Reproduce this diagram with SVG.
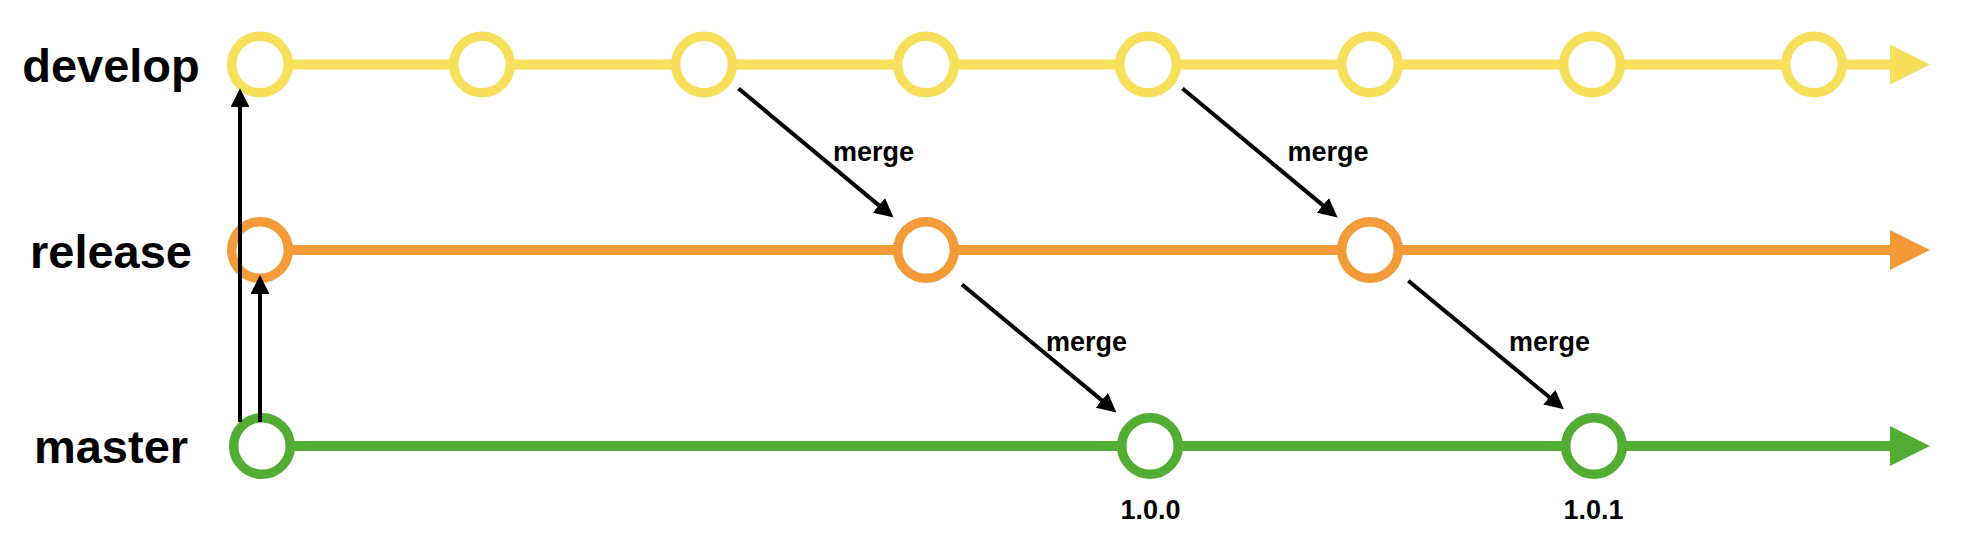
<svg xmlns="http://www.w3.org/2000/svg" width="1974" height="536" viewBox="0 0 1974 536">
<style>
.lbl{font-family:"Liberation Sans",Arial,sans-serif;font-weight:bold;fill:#000}
.branch{font-size:47px;text-anchor:middle}
.merge{font-size:27px}
.ver{font-size:27px;text-anchor:middle}
.dev{stroke:#F6E05B}
.rel{stroke:#F29B38}
.mas{stroke:#52AE33}
.track{stroke-width:10;fill:none}
.commit{fill:#fff;stroke-width:9.5}
.conn{stroke:#000;stroke-width:4;fill:none;marker-end:url(#ah)}
</style>
<defs>
<marker id="ah" markerUnits="userSpaceOnUse" markerWidth="19" markerHeight="19" viewBox="0 0 19 19" refX="4" refY="9.5" orient="auto">
<path d="M0,0 L19,9.5 L0,19 z" fill="#000"/>
</marker>
</defs>
<g id="labels">
<text class="lbl branch" x="111" y="82">develop</text>
<text class="lbl branch" x="111" y="268">release</text>
<text class="lbl branch" x="111" y="463">master</text>
</g>
<g id="tracks">
<line class="track dev" x1="260" y1="64.5" x2="1892" y2="64.5"/>
<path d="M1890,44.5 L1930,64.5 L1890,84.5 z" fill="#F6E05B"/>
<line class="track rel" x1="260" y1="250" x2="1892" y2="250"/>
<path d="M1890,230 L1930,250 L1890,270 z" fill="#F29B38"/>
<line class="track mas" x1="262" y1="446" x2="1892" y2="446"/>
<path d="M1890,426 L1930,446 L1890,466 z" fill="#52AE33"/>
</g>
<g id="develop-commits">
<circle class="commit dev" cx="260" cy="64.5" r="28.3"/>
<circle class="commit dev" cx="482" cy="64.5" r="28.3"/>
<circle class="commit dev" cx="704" cy="64.5" r="28.3"/>
<circle class="commit dev" cx="926" cy="64.5" r="28.3"/>
<circle class="commit dev" cx="1148" cy="64.5" r="28.3"/>
<circle class="commit dev" cx="1370" cy="64.5" r="28.3"/>
<circle class="commit dev" cx="1592" cy="64.5" r="28.3"/>
<circle class="commit dev" cx="1814" cy="64.5" r="28.3"/>
</g>
<g id="release-commits">
<circle class="commit rel" cx="260" cy="250" r="28.3"/>
<circle class="commit rel" cx="926" cy="250" r="28.3"/>
<circle class="commit rel" cx="1370" cy="250" r="28.3"/>
</g>
<g id="master-commits">
<circle class="commit mas" cx="262" cy="446" r="28.3"/>
<circle class="commit mas" cx="1150" cy="446" r="28.3"/>
<circle class="commit mas" cx="1594" cy="446" r="28.3"/>
</g>
<g id="connectors">
<line class="conn" x1="240" y1="422" x2="240" y2="103.3"/>
<line class="conn" x1="260" y1="422" x2="260" y2="290"/>
<line class="conn" x1="738.5" y1="88.5" x2="882" y2="207.9"/>
<line class="conn" x1="1182.5" y1="88.5" x2="1326" y2="207.9"/>
<line class="conn" x1="962" y1="284.5" x2="1104.9" y2="402.9"/>
<line class="conn" x1="1408.3" y1="280.7" x2="1552.4" y2="399.7"/>
</g>
<g id="merge-labels">
<text class="lbl merge" x="833" y="160.5">merge</text>
<text class="lbl merge" x="1287.5" y="160.5">merge</text>
<text class="lbl merge" x="1046" y="351">merge</text>
<text class="lbl merge" x="1509" y="351">merge</text>
</g>
<g id="versions">
<text class="lbl ver" x="1150.5" y="518.5">1.0.0</text>
<text class="lbl ver" x="1593.5" y="518.5">1.0.1</text>
</g>
</svg>
